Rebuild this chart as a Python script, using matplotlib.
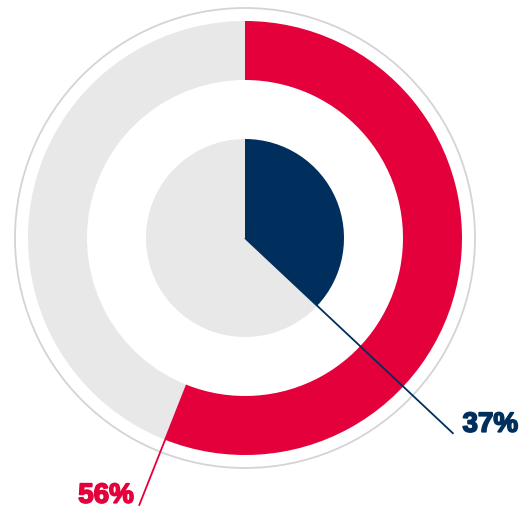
import numpy as np
import matplotlib.pyplot as plt
import matplotlib.patheffects as pe
from matplotlib.patches import Circle

# shares shown in the two rings
outer_share = 56
inner_share = 37
outer_label = "56%"
inner_label = "37%"

red = "#e4003b"
navy = "#002f5d"
grey = "#e8e8e8"

fig = plt.figure(figsize=(5.27, 5.10), dpi=100)
ax = fig.add_axes([0, 0, 1, 1])

cx, cy = 245, 271

# thin frame circle
ax.add_patch(Circle((cx, cy), 230, fill=False, edgecolor="#d4d4d4", lw=1.3))

# outer donut
ax.pie([outer_share, 100 - outer_share], colors=[red, grey], radius=217,
       center=(cx, cy), startangle=90, counterclock=False,
       wedgeprops=dict(width=59, linewidth=0), frame=True)

# inner pie
ax.pie([inner_share, 100 - inner_share], colors=[navy, grey], radius=99,
       center=(cx, cy), startangle=90, counterclock=False,
       wedgeprops=dict(linewidth=0), frame=True)

ax.set_xlim(0, 527)
ax.set_ylim(0, 510)
ax.set_aspect("equal")
ax.axis("off")

# leader lines follow the end edge of each highlighted slice
def edge_angle(share):
    return np.deg2rad(90 - 360 * share / 100)

def label(x, y, s, color, ha):
    t = ax.text(x, y, s, color=color, fontsize=20, fontweight="bold",
                family="Liberation Sans", ha=ha, va="center")
    t.set_path_effects([pe.Stroke(linewidth=1.2, foreground=color), pe.Normal()])

a_in = edge_angle(inner_share)
ax.plot([cx, cx + 286 * np.cos(a_in)], [cy, cy + 286 * np.sin(a_in)],
        color=navy, lw=1.3, solid_capstyle="butt")
label(cx + 286 * np.cos(a_in) + 9, cy + 286 * np.sin(a_in) + 9, inner_label, navy, "left")

a_out = edge_angle(outer_share)
ax.plot([cx + 158 * np.cos(a_out), cx + 288 * np.cos(a_out)],
        [cy + 158 * np.sin(a_out), cy + 288 * np.sin(a_out)],
        color=red, lw=1.3, solid_capstyle="butt")
label(cx + 288 * np.cos(a_out) - 5, cy + 288 * np.sin(a_out) + 10, outer_label, red, "right")

fig.savefig("out.png", dpi=100, facecolor="white")
